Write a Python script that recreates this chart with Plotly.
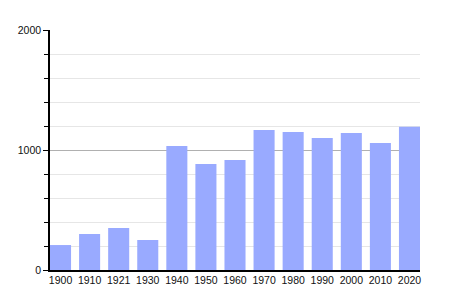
import plotly.graph_objects as go

years = ["1900", "1910", "1921", "1930", "1940", "1950", "1960", "1970", "1980", "1990", "2000", "2010", "2020"]
population = [208, 300, 350, 250, 1033, 883, 917, 1167, 1150, 1100, 1142, 1058, 1194]
positions = list(range(len(years)))
y_ticks = [0, 1000, 2000]

fig = go.Figure()
fig.add_trace(go.Bar(
    x=positions, y=population, width=0.724,
    marker=dict(color="#99aaff", line=dict(width=0)),
))

fig.update_layout(
    width=450, height=300,
    margin=dict(l=50, r=30, t=30, b=30),
    paper_bgcolor="white", plot_bgcolor="white",
    showlegend=False,
    font=dict(family="Liberation Sans, Arial, sans-serif", size=10.5, color="#111111"),
)
fig.update_xaxes(
    range=[-0.362, 12.362], tickmode="array", tickvals=positions, ticktext=years,
    showline=True, linecolor="black", linewidth=1.5, showgrid=False, zeroline=False,
    ticks="", ticklen=0, tickfont=dict(size=10.5),
)
fig.update_yaxes(
    range=[0, 2000], tickmode="array", tickvals=y_ticks,
    showline=True, linecolor="black", linewidth=1.5,
    showgrid=True, gridcolor="#b0b0b0", gridwidth=1, zeroline=False,
    ticks="outside", ticklen=5, tickcolor="black", tickwidth=1,
    minor=dict(dtick=200, showgrid=True, gridcolor="#e6e6e6", ticks="outside", ticklen=4, tickcolor="black"),
    tickfont=dict(size=10.5),
)

fig.write_html("out.html")
